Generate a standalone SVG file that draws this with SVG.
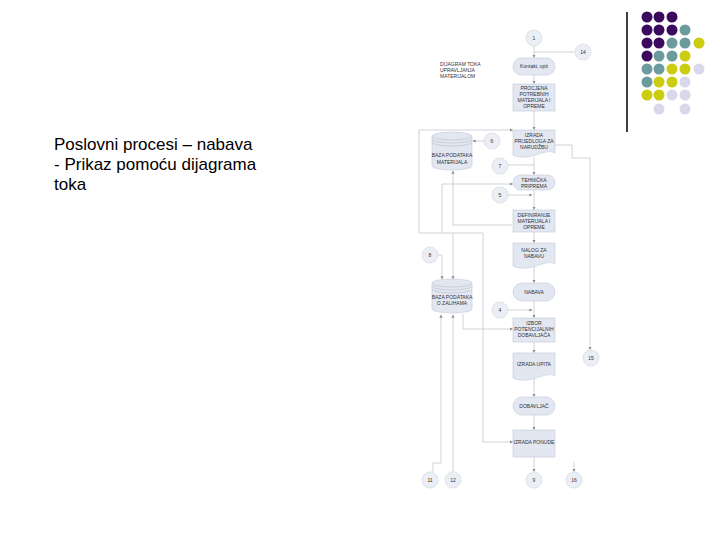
<svg xmlns="http://www.w3.org/2000/svg" width="720" height="540" viewBox="0 0 720 540">
<defs>
<style>
.t{font-family:"Liberation Sans",Arial,sans-serif;font-size:17px;fill:#000}
.s{font-family:"Liberation Sans",Arial,sans-serif;font-size:5px;fill:#333;text-anchor:middle}
.sl{font-family:"Liberation Sans",Arial,sans-serif;font-size:5px;fill:#333}
.n{fill:#e2e7f2;stroke:#c4c9d4;stroke-width:0.6}
.c{fill:#eceef5;stroke:#b9bdc8;stroke-width:0.6;stroke-dasharray:1.5 1}
.l{fill:none;stroke:#c2c6cf;stroke-width:0.8}
.la{fill:none;stroke:#c2c6cf;stroke-width:0.8;marker-end:url(#ah)}
.p{fill:#3b0a5e}.g{fill:#6b9b9c}.y{fill:#cccc11}.v{fill:#d8d8ea}
</style>
<marker id="ah" viewBox="0 0 6 6" refX="5" refY="3" markerWidth="4" markerHeight="4" orient="auto">
<path d="M0,0 L6,3 L0,6 Z" fill="#8a8f99"/>
</marker>
</defs>
<rect width="720" height="540" fill="#fff"/>

<g id="title">
<text class="t" x="54" y="150">Poslovni procesi – nabava</text>
<text class="t" x="54" y="170">- Prikaz pomoću dijagrama</text>
<text class="t" x="54" y="190">toka</text>
</g>

<g id="decor">
<line x1="627" y1="12" x2="627" y2="132" stroke="#000" stroke-width="1.5"/>
<circle class="p" cx="647" cy="17" r="5.5"/><circle class="p" cx="659" cy="17" r="5.5"/><circle class="p" cx="672" cy="17" r="5.5"/>
<circle class="p" cx="647" cy="30" r="5.5"/><circle class="p" cx="659" cy="30" r="5.5"/><circle class="p" cx="672" cy="30" r="5.5"/><circle class="g" cx="685" cy="30" r="5.5"/>
<circle class="p" cx="647" cy="43" r="5.5"/><circle class="p" cx="659" cy="43" r="5.5"/><circle class="g" cx="672" cy="43" r="5.5"/><circle class="g" cx="685" cy="43" r="5.5"/><circle class="y" cx="699" cy="43" r="5.5"/>
<circle class="p" cx="647" cy="56" r="5.5"/><circle class="g" cx="659" cy="56" r="5.5"/><circle class="g" cx="672" cy="56" r="5.5"/><circle class="y" cx="685" cy="56" r="5.5"/>
<circle class="g" cx="647" cy="69" r="5.5"/><circle class="g" cx="659" cy="69" r="5.5"/><circle class="y" cx="672" cy="69" r="5.5"/><circle class="y" cx="685" cy="69" r="5.5"/><circle class="v" cx="699" cy="69" r="5.5"/>
<circle class="g" cx="647" cy="82" r="5.5"/><circle class="y" cx="659" cy="82" r="5.5"/><circle class="y" cx="672" cy="82" r="5.5"/><circle class="v" cx="685" cy="82" r="5.5"/>
<circle class="y" cx="647" cy="95" r="5.5"/><circle class="y" cx="659" cy="95" r="5.5"/><circle class="v" cx="672" cy="95" r="5.5"/><circle class="v" cx="685" cy="95" r="5.5"/>
<circle class="v" cx="659" cy="109" r="5.5"/><circle class="v" cx="685" cy="109" r="5.5"/>
</g>

<g id="connectors">
<path class="la" d="M534,46 V57.5"/>
<path class="l" d="M575,52 H534"/>
<path class="la" d="M534,75 V83.5"/>
<path class="la" d="M534,111 V129.5"/>
<path class="la" d="M534,157 V174.5"/>
<path class="l" d="M508,165 H534"/>
<path class="la" d="M534,190 V209.5"/>
<path class="la" d="M508,195 H532"/>
<path class="la" d="M534,232 V242.5"/>
<path class="la" d="M534,266 V282.5"/>
<path class="la" d="M534,301 V317.5"/>
<path class="la" d="M508,310 H532"/>
<path class="la" d="M534,342 V352.5"/>
<path class="la" d="M534,378 V396.5"/>
<path class="la" d="M534,415 V429.5"/>
<path class="la" d="M534,457 V471.5"/>
<path class="la" d="M574,462 V471.5"/>
<path class="la" d="M484,141 H473"/>
<path class="la" d="M419,233 V130 H512.5"/>
<path class="la" d="M419,233 H483 V442 H512.5"/>
<path class="la" d="M512,225 H453 V171"/>
<path class="la" d="M442,233 V184 H512.5"/>
<path class="la" d="M453,233 V279"/>
<path class="la" d="M438,255 H442 V279"/>
<path class="la" d="M463,314 V329 H512.5"/>
<path class="la" d="M433,472 V463 H441 V315"/>
<path class="la" d="M453,472 V315"/>
<path class="l" d="M555,145 H572 V158 H590"/>
<path class="la" d="M590,158 V349.5"/>
</g>

<g id="label-dijagram">
<text class="sl" x="440" y="66">DIJAGRAM TOKA</text>
<text class="sl" x="440" y="72">UPRAVLJANJA</text>
<text class="sl" x="440" y="78">MATERIJALOM</text>
</g>

<g id="c1"><circle class="c" cx="534" cy="38" r="8"/><text class="s" x="534" y="40">1</text></g>
<g id="c14"><circle class="c" cx="583" cy="52" r="8"/><text class="s" x="583" y="54">14</text></g>
<g id="c6"><circle class="c" cx="492" cy="141" r="8"/><text class="s" x="492" y="143">6</text></g>
<g id="c7"><circle class="c" cx="500" cy="166" r="8"/><text class="s" x="500" y="168">7</text></g>
<g id="c5"><circle class="c" cx="500" cy="195" r="8"/><text class="s" x="500" y="197">5</text></g>
<g id="c8"><circle class="c" cx="430" cy="255" r="8"/><text class="s" x="430" y="257">8</text></g>
<g id="c4"><circle class="c" cx="500" cy="310" r="8"/><text class="s" x="500" y="312">4</text></g>
<g id="c15"><circle class="c" cx="591" cy="358" r="8"/><text class="s" x="591" y="360">15</text></g>
<g id="c11"><circle class="c" cx="430" cy="480" r="8"/><text class="s" x="430" y="482">11</text></g>
<g id="c12"><circle class="c" cx="453" cy="480" r="8"/><text class="s" x="453" y="482">12</text></g>
<g id="c9"><circle class="c" cx="534" cy="480" r="8"/><text class="s" x="534" y="482">9</text></g>
<g id="c16"><circle class="c" cx="574" cy="480" r="8"/><text class="s" x="574" y="482">16</text></g>

<g id="kontakt"><rect class="n" x="513" y="58" width="42" height="17" rx="8.5"/><text class="s" x="534" y="68">Kontakt, upit</text></g>
<g id="procjena"><rect class="n" x="513" y="84" width="42" height="27"/>
<text class="s" x="534" y="90">PROCJENA</text><text class="s" x="534" y="96">POTREBNIH</text><text class="s" x="534" y="102">MATERIJALA I</text><text class="s" x="534" y="108">OPREME</text></g>
<g id="izrada-prijedloga"><path class="n" d="M513,130 H555 V153 C545,147 530,163 513,155 Z"/>
<text class="s" x="534" y="137">IZRADA</text><text class="s" x="534" y="143">PRIJEDLOGA ZA</text><text class="s" x="534" y="149">NARUDŽBU</text></g>
<g id="tehnicka"><rect class="n" x="513" y="175" width="42" height="15" rx="7.5"/>
<text class="s" x="534" y="181.5">TEHNIČKA</text><text class="s" x="534" y="187.5">PRIPREMA</text></g>
<g id="definiranje"><rect class="n" x="513" y="210" width="42" height="22"/>
<text class="s" x="534" y="217">DEFINIRANJE</text><text class="s" x="534" y="223">MATERIJALA I</text><text class="s" x="534" y="229">OPREME</text></g>
<g id="nalog"><path class="n" d="M513,243 H555 V264 C545,258 530,274 513,266 Z"/>
<text class="s" x="534" y="252">NALOG ZA</text><text class="s" x="534" y="258">NABAVU</text></g>
<g id="nabava"><rect class="n" x="513" y="283" width="42" height="18" rx="9"/><text class="s" x="534" y="293.5">NABAVA</text></g>
<g id="izbor"><rect class="n" x="513" y="318" width="42" height="24"/>
<text class="s" x="534" y="325">IZBOR</text><text class="s" x="534" y="331">POTENCIJALNIH</text><text class="s" x="534" y="337">DOBAVLJAČA</text></g>
<g id="izrada-upita"><path class="n" d="M513,353 H555 V376 C545,370 530,386 513,378 Z"/><text class="s" x="534" y="366">IZRADA UPITA</text></g>
<g id="dobavljac"><rect class="n" x="513" y="397" width="42" height="18" rx="9"/><text class="s" x="534" y="407.5">DOBAVLJAČ</text></g>
<g id="izrada-ponude"><rect class="n" x="513" y="430" width="42" height="27"/><text class="s" x="534" y="444">IZRADA PONUDE</text></g>

<g id="baza-materijala">
<path class="n" d="M432,136 A20,4 0 0 1 472,136 V166 A20,4 0 0 1 432,166 Z"/>
<path class="l" d="M432,136 A20,4 0 0 0 472,136 M432,139 A20,4 0 0 0 472,139 M432,142 A20,4 0 0 0 472,142"/>
<text class="s" x="452" y="157">BAZA PODATAKA</text><text class="s" x="452" y="164">MATERIJALA</text>
</g>
<g id="baza-zalihe">
<path class="n" d="M432,283 A20,4 0 0 1 472,283 V309 A20,4 0 0 1 432,309 Z"/>
<path class="l" d="M432,283 A20,4 0 0 0 472,283 M432,286 A20,4 0 0 0 472,286 M432,289 A20,4 0 0 0 472,289"/>
<text class="s" x="452" y="299">BAZA PODATAKA</text><text class="s" x="452" y="305">O ZALIHAMA</text>
</g>
</svg>
